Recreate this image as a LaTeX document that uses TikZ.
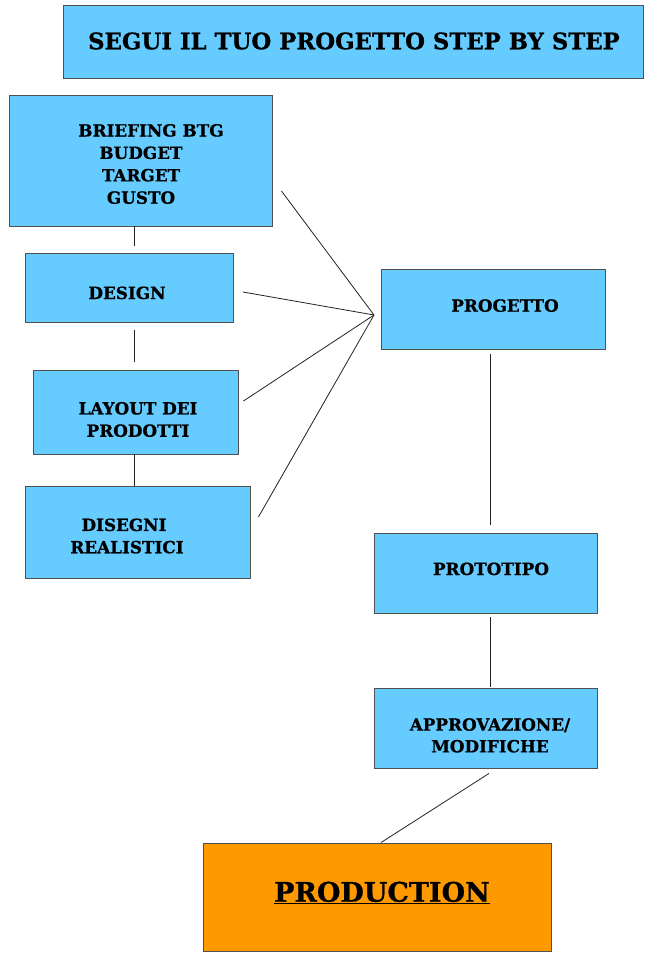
\documentclass[tikz,border=0pt]{standalone}
\usepackage{fontspec}
\setmainfont{DejaVu Serif}[BoldFeatures={FakeBold=0.8}]
\usetikzlibrary{calc}
\definecolor{boxblue}{HTML}{66CCFF}
\definecolor{boxorange}{HTML}{FF9900}
\definecolor{edgegray}{HTML}{505050}
\definecolor{linegray}{HTML}{222222}
\begin{document}
\begin{tikzpicture}[x=1pt,y=-1pt,
  box/.style={draw=edgegray, line width=0.9pt, fill=boxblue, rectangle, inner sep=0pt},
  obox/.style={box, fill=boxorange},
  txt/.style={font=\bfseries\fontsize{16.8}{22.4}\selectfont, inner sep=0pt, align=center, text=black},
  conn/.style={draw=linegray, line width=0.8pt}
]
\useasboundingbox (0,0) rectangle (650,953);
% boxes
\node[box, minimum width=580pt, minimum height=73pt] (title) at (353,41.5) {};
\node[box, minimum width=263pt, minimum height=131pt] (brief) at (140.5,160.5) {};
\node[box, minimum width=208pt, minimum height=69pt] (design) at (129,287.5) {};
\node[box, minimum width=205pt, minimum height=84pt] (layout) at (135.5,412) {};
\node[box, minimum width=225pt, minimum height=92pt] (diseg) at (137.5,532) {};
\node[box, minimum width=224pt, minimum height=80pt] (prog) at (493,309) {};
\node[box, minimum width=223pt, minimum height=80pt] (proto) at (485.5,573) {};
\node[box, minimum width=223pt, minimum height=80pt] (appr) at (485.5,728) {};
\node[obox, minimum width=348pt, minimum height=108pt] (prod) at (377,897) {};
% texts
\node[txt, font=\bfseries\fontsize{22.8}{28}\selectfont, anchor=base] (titlet) at (354,49.3) {SEGUI IL TUO PROGETTO STEP BY STEP};
\node[txt] (brieft) at (141,164) {\hspace*{20pt}BRIEFING BTG\\BUDGET\\TARGET\\GUSTO};
\node[txt, anchor=base] (designt) at (127,299) {DESIGN};
\node[txt, font=\bfseries\fontsize{16.8}{22.3}\selectfont] (layoutt) at (138,419.5) {LAYOUT DEI\\PRODOTTI};
\node[txt, font=\bfseries\fontsize{16.8}{22.3}\selectfont] (disegt) at (127,536) {\hspace*{-6pt}DISEGNI\\REALISTICI};
\node[txt, anchor=base] (progt) at (505,311.7) {PROGETTO};
\node[txt, anchor=base] (protot) at (491,575) {PROTOTIPO};
\node[txt, font=\bfseries\fontsize{16.8}{21.7}\selectfont, anchor=north] (apprt) at (490,718) {APPROVAZIONE/\\MODIFICHE};
\node[txt, font=\bfseries\fontsize{27}{32}\selectfont, anchor=base] (prodt) at (382,901.7) {\underline{PRODUCTION}};
% connectors, left column
\draw[conn, shorten >=7pt] ([xshift=-6.5pt]brief.south) -- ([xshift=-6.5pt]brief.south |- design.north);
\draw[conn, shorten <=8pt, shorten >=8pt] ([xshift=5pt]design.south) -- ([xshift=5pt]design.south |- layout.north);
\draw[conn] ([xshift=-1.5pt]layout.south) -- ([xshift=-1.5pt]layout.south |- diseg.north);
% fan into PROGETTO
\coordinate (conv) at (374,315);
\draw[conn] ($(brief.east)+(9,30.5)$) -- (conv);
\draw[conn] ($(design.east)+(9.5,4.5)$) -- (conv);
\draw[conn] ($(layout.east)+(5,-11)$) -- (conv);
\draw[conn] ($(diseg.east)+(8,-15)$) -- (conv);
% right column
\draw[conn, shorten <=5pt, shorten >=8pt] ([xshift=-3pt]prog.south) -- ([xshift=-3pt]prog.south |- proto.north);
\draw[conn, shorten <=4pt, shorten >=1pt] ([xshift=4.5pt]proto.south) -- ([xshift=4.5pt]proto.south |- appr.north);
\draw[conn] ($(appr.south)+(3.5,5)$) -- ($(prod.north)+(4,0)$);
\end{tikzpicture}
\end{document}
